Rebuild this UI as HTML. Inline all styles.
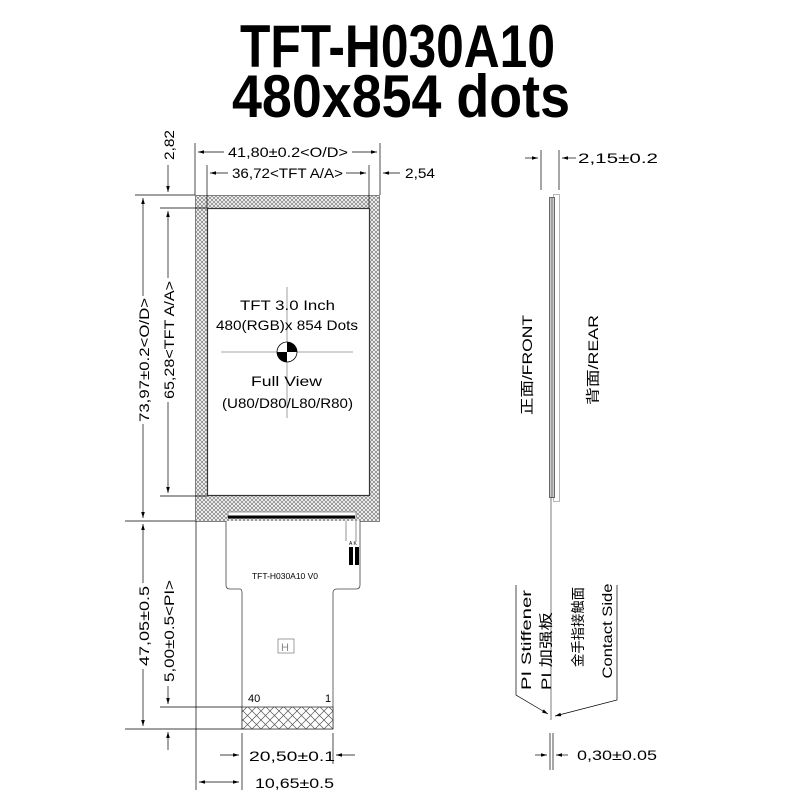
<!DOCTYPE html>
<html><head><meta charset="utf-8"><style>
html,body{margin:0;padding:0;background:#fff;width:800px;height:800px;overflow:hidden}
svg{display:block}
text{font-family:"Liberation Sans","Noto Sans CJK SC",sans-serif;fill:#000}
</style></head><body>
<svg width="800" height="800" viewBox="0 0 800 800" xmlns="http://www.w3.org/2000/svg">
<defs>
<pattern id="h" width="4" height="4" patternUnits="userSpaceOnUse">
<rect width="4" height="4" fill="#fff"/>
<path d="M0 0L4 4M4 0L0 4" stroke="#888" stroke-width="0.8"/>
</pattern>
<pattern id="h2" width="9" height="9" patternUnits="userSpaceOnUse">
<rect width="9" height="9" fill="#fff"/>
<path d="M0 0L9 9M9 0L0 9" stroke="#555" stroke-width="0.7"/>
</pattern>
<marker id="a" viewBox="0 0 10 10" refX="10" refY="5" markerWidth="9" markerHeight="6" orient="auto-start-reverse" markerUnits="userSpaceOnUse">
<path d="M0 2L10 5L0 8Z" fill="#000"/></marker>
</defs>

<text x="240" y="67" font-size="60" font-weight="bold" textLength="315" lengthAdjust="spacingAndGlyphs">TFT-H030A10</text>
<text x="232" y="117" font-size="60" font-weight="bold" textLength="338" lengthAdjust="spacingAndGlyphs">480x854 dots</text>

<g stroke="#000" stroke-width="0.8" fill="none">
<rect x="195.5" y="195.5" width="184" height="326" fill="url(#h)" stroke="#666"/>
<rect x="207.5" y="208.5" width="162" height="287" fill="#fff" stroke="#333" stroke-width="1.2"/>
<rect x="228" y="512" width="128" height="6" fill="#fff" stroke="#888"/>
<line x1="228" y1="517" x2="355" y2="517" stroke="#000" stroke-width="3"/>
<line x1="221" y1="352" x2="353" y2="352" stroke="#888"/>
<line x1="287" y1="287" x2="287" y2="418" stroke="#888"/>
</g>
<circle cx="287" cy="352" r="10" fill="#fff" stroke="#000" stroke-width="0.8"/>
<path d="M287 352L277 352A10 10 0 0 0 287 362Z" fill="#000"/>
<path d="M287 352L297 352A10 10 0 0 0 287 342Z" fill="#000"/>

<g font-size="14" lengthAdjust="spacingAndGlyphs">
<text x="240" y="310" textLength="95" lengthAdjust="spacingAndGlyphs">TFT 3.0 Inch</text>
<text x="216" y="330" textLength="142" lengthAdjust="spacingAndGlyphs">480(RGB)x 854 Dots</text>
<text x="251" y="386" textLength="71" lengthAdjust="spacingAndGlyphs">Full View</text>
<text x="222" y="408" textLength="131" lengthAdjust="spacingAndGlyphs">(U80/D80/L80/R80)</text>
</g>

<path d="M226 521V585Q226 589 230 589H240Q242 589 242 593V729H333V593Q333 589 337 589H356Q360 589 360 585V521" fill="#fff" stroke="#444" stroke-width="0.8"/>
<rect x="242" y="707" width="91" height="22" fill="url(#h2)" stroke="#333" stroke-width="0.8"/>
<path d="M346 521V541M356 521V541" stroke="#666" stroke-width="0.7"/>
<rect x="349" y="547" width="4" height="18" fill="#000"/>
<rect x="355" y="547" width="4" height="18" fill="#000"/>
<text x="349" y="545" font-size="5">A K</text>
<text x="252" y="579" font-size="8" textLength="66" lengthAdjust="spacingAndGlyphs">TFT-H030A10 V0</text>
<rect x="278" y="639" width="16" height="14" fill="none" stroke="#888" stroke-width="0.8"/>
<text x="281" y="651" font-size="11" style="fill:#888">H</text>
<text x="248" y="702" font-size="11">40</text>
<text x="325" y="702" font-size="11">1</text>

<g stroke="#000" stroke-width="0.7" fill="none">
<line x1="195" y1="143" x2="195" y2="195"/><line x1="380" y1="143" x2="380" y2="195"/>
<line x1="207" y1="165" x2="207" y2="208"/><line x1="369" y1="165" x2="369" y2="208"/>
<line x1="198" y1="152" x2="224" y2="152" marker-start="url(#a)"/>
<line x1="352" y1="152" x2="377" y2="152" marker-end="url(#a)"/>
<line x1="210" y1="173" x2="228" y2="173" marker-start="url(#a)"/>
<line x1="346" y1="173" x2="366" y2="173" marker-end="url(#a)"/>
<line x1="383" y1="173" x2="400" y2="173" marker-start="url(#a)"/>
<line x1="135" y1="195" x2="195" y2="195"/><line x1="160" y1="208" x2="207" y2="208"/>
<line x1="160" y1="496" x2="207" y2="496"/><line x1="125" y1="521" x2="195" y2="521"/>
<line x1="168" y1="165" x2="168" y2="192" marker-end="url(#a)"/>
<line x1="168" y1="211" x2="168" y2="278" marker-start="url(#a)"/>
<line x1="168" y1="402" x2="168" y2="493" marker-end="url(#a)"/>
<line x1="143" y1="198" x2="143" y2="296" marker-start="url(#a)"/>
<line x1="143" y1="424" x2="143" y2="518" marker-end="url(#a)"/>
<line x1="143" y1="524" x2="143" y2="583" marker-start="url(#a)"/>
<line x1="143" y1="669" x2="143" y2="726" marker-end="url(#a)"/>
<line x1="125" y1="729" x2="242" y2="729"/><line x1="160" y1="707" x2="242" y2="707"/>
<line x1="168" y1="686" x2="168" y2="704" marker-end="url(#a)"/>
<line x1="168" y1="750" x2="168" y2="732" marker-end="url(#a)"/>
<line x1="196" y1="521" x2="196" y2="790"/>
<line x1="242" y1="733" x2="242" y2="790"/><line x1="333" y1="733" x2="333" y2="764"/>
<line x1="220" y1="755" x2="239" y2="755" marker-end="url(#a)"/>
<line x1="355" y1="755" x2="336" y2="755" marker-end="url(#a)"/>
<line x1="199" y1="782" x2="239" y2="782" marker-start="url(#a)" marker-end="url(#a)"/>
<line x1="541" y1="150" x2="541" y2="190"/><line x1="559" y1="150" x2="559" y2="190"/>
<line x1="525" y1="158" x2="538" y2="158" marker-end="url(#a)"/>
<line x1="576" y1="158" x2="562" y2="158" marker-end="url(#a)"/>
<rect x="553.5" y="194.5" width="6" height="307" stroke="#999"/>
<rect x="549.5" y="197.5" width="5" height="300" stroke="#333" fill="#ccc"/>
<line x1="552" y1="198" x2="552" y2="497" stroke="#555"/>
<line x1="551" y1="497" x2="551" y2="720" stroke="#444"/>
<line x1="550" y1="733" x2="550" y2="770"/><line x1="553" y1="733" x2="553" y2="770"/>
<line x1="535" y1="755" x2="547" y2="755" marker-end="url(#a)"/>
<line x1="568" y1="755" x2="556" y2="755" marker-end="url(#a)"/>
<path d="M516 585V695L548 714" marker-end="url(#a)"/>
<path d="M617 585V700L555 716" marker-end="url(#a)"/>
</g>

<g font-size="14">
<text x="228" y="157" textLength="120" lengthAdjust="spacingAndGlyphs">41,80±0.2&lt;O/D&gt;</text>
<text x="232" y="178" textLength="111" lengthAdjust="spacingAndGlyphs">36,72&lt;TFT A/A&gt;</text>
<text x="405" y="178" textLength="30" lengthAdjust="spacingAndGlyphs">2,54</text>
<text x="578" y="163" textLength="80" lengthAdjust="spacingAndGlyphs">2,15±0.2</text>
<text x="577" y="760" textLength="80" lengthAdjust="spacingAndGlyphs">0,30±0.05</text>
<text x="249" y="761" textLength="86" lengthAdjust="spacingAndGlyphs">20,50±0.1</text>
<text x="255" y="788" textLength="79" lengthAdjust="spacingAndGlyphs">10,65±0.5</text>
<text transform="translate(174,145) rotate(-90)" text-anchor="middle" textLength="30" lengthAdjust="spacingAndGlyphs">2,82</text>
<text transform="translate(149,360) rotate(-90)" text-anchor="middle" textLength="124" lengthAdjust="spacingAndGlyphs">73,97±0.2&lt;O/D&gt;</text>
<text transform="translate(174,340) rotate(-90)" text-anchor="middle" textLength="118" lengthAdjust="spacingAndGlyphs">65,28&lt;TFT A/A&gt;</text>
<text transform="translate(149,626) rotate(-90)" text-anchor="middle" textLength="80" lengthAdjust="spacingAndGlyphs">47,05±0.5</text>
<text transform="translate(174,631) rotate(-90)" text-anchor="middle" textLength="102" lengthAdjust="spacingAndGlyphs">5,00±0.5&lt;PI&gt;</text>
<text transform="translate(532,365) rotate(-90)" text-anchor="middle" textLength="100" lengthAdjust="spacingAndGlyphs">正面/FRONT</text>
<text transform="translate(598,360) rotate(-90)" text-anchor="middle" textLength="90" lengthAdjust="spacingAndGlyphs">背面/REAR</text>
<text transform="translate(531,640) rotate(-90)" text-anchor="middle" textLength="100" lengthAdjust="spacingAndGlyphs">PI Stiffener</text>
<text transform="translate(551,651) rotate(-90)" text-anchor="middle" textLength="78" lengthAdjust="spacingAndGlyphs">PI 加强板</text>
<text transform="translate(583,627) rotate(-90)" text-anchor="middle" textLength="80" lengthAdjust="spacingAndGlyphs">金手指接触面</text>
<text transform="translate(612,631) rotate(-90)" text-anchor="middle" textLength="95" lengthAdjust="spacingAndGlyphs">Contact Side</text>
</g>
</svg>
</body></html>
